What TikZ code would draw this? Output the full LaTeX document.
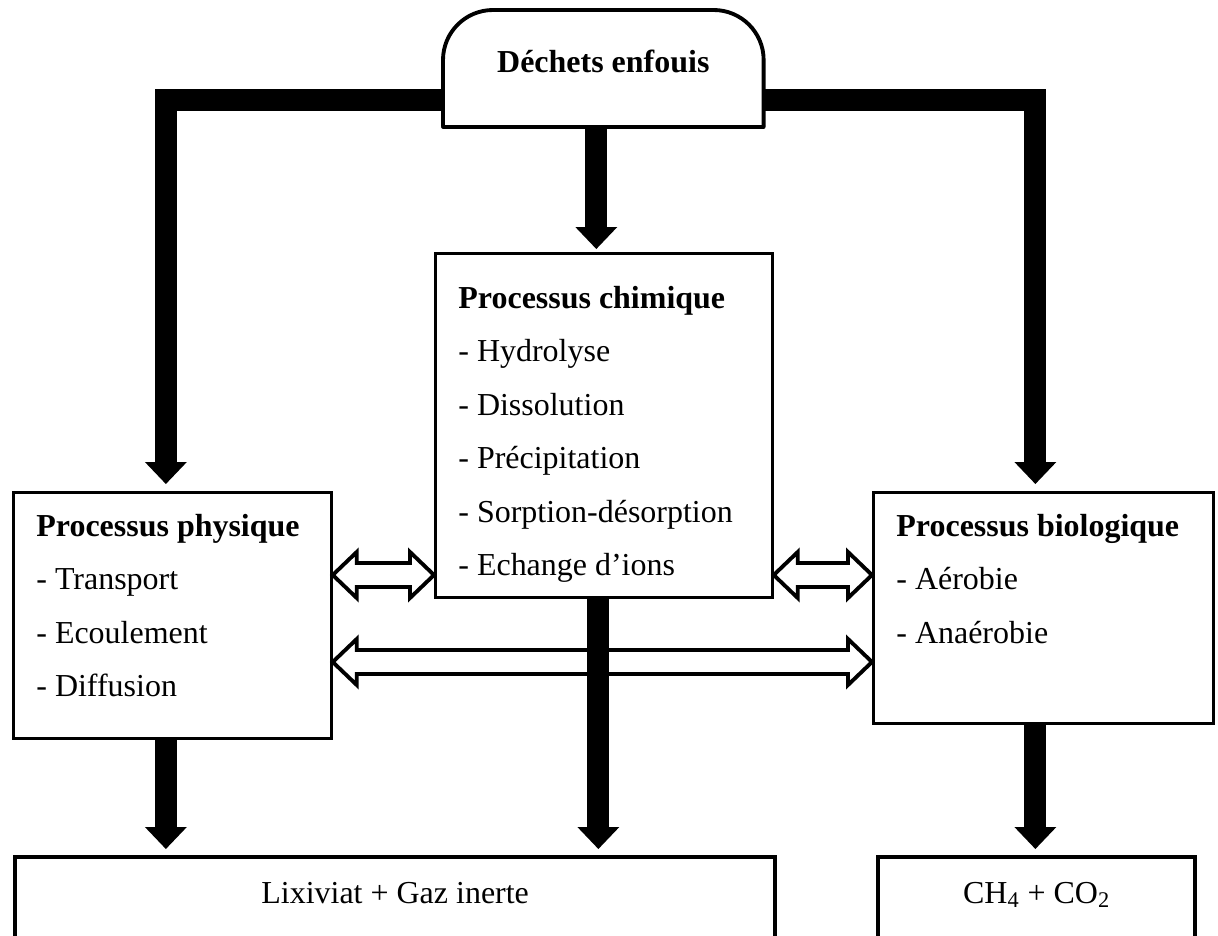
\documentclass[tikz,border=0pt]{standalone}
\usepackage{fontspec}
\setmainfont{Liberation Serif}
\usetikzlibrary{arrows.meta,calc}

\newcommand{\boxfont}{\fontsize{18.2pt}{30.4pt}\selectfont}
\newcommand{\itemlist}[2]{\begin{tabular}[t]{@{\hspace{0.46cm}}p{#1}@{}}#2\end{tabular}}
\newcommand{\twoway}[2]{%
  \draw[hollowarrow] (#1) -- ++(24,-23) -- ++(0,11) -- ($(#2)+(-24,-12)$) -- ++(0,-11)
    -- (#2) -- ++(-24,23) -- ++(0,-11) -- ($(#1)+(24,12)$) -- ++(0,11) -- cycle;}

\begin{document}
\begin{tikzpicture}[x=0.02cm, y=-0.02cm, font=\boxfont,
    procbox/.style={draw, line width=1.6pt, anchor=north west, inner sep=0pt},
    bigarrow/.style={line width=0.44cm, -{Triangle[width=0.84cm,length=0.44cm,line width=0pt]}},
    hollowarrow/.style={line width=2.2pt, fill=white, line join=miter}]
    \path[use as bounding box] (0,0) rectangle (1218,936);
    \clip (0,0) rectangle (1218,936);
    % waste on top
    \node[anchor=north west, inner sep=0pt, minimum width=6.4cm, text height=1.24cm,
      text depth=1.08cm, font=\boxfont\bfseries] (top) at (443,10) {Déchets enfouis};
    \draw[line width=2.2pt, rounded corners=1cm] (top.south west) -- (top.north west)
      -- (top.north east) -- (top.south east);
    \draw[line width=2.2pt, line cap=round] (top.south west) -- (top.south east);
    % the three processes
    \node[procbox, text height=0.88cm, text depth=4.04cm] (phys) at (12,491)
      {\itemlist{5.9cm}{\textbf{Processus physique}\\- Transport\\- Ecoulement\\- Diffusion}};
    \node[procbox, text height=1.1cm, text depth=5.78cm] (chem) at (434,252)
      {\itemlist{6.28cm}{\textbf{Processus chimique}\\- Hydrolyse\\- Dissolution\\- Précipitation\\- Sorption-désorption\\- Echange d’ions}};
    \node[procbox, text height=0.88cm, text depth=3.74cm] (bio) at (872,491)
      {\itemlist{6.34cm}{\textbf{Processus biologique}\\- Aérobie\\- Anaérobie}};
    % products
    \node[procbox, line width=2.5pt, minimum width=15.2cm, text height=0.92cm, text depth=2cm] (lix) at (13,855)
      {Lixiviat + Gaz inerte};
    \node[procbox, line width=2.5pt, minimum width=6.34cm, text height=0.92cm, text depth=2cm] (gas) at (876,855)
      {CH\textsubscript{4} + CO\textsubscript{2}};
    % arrows from the waste
    \draw[bigarrow, shorten >=0.14cm] ([yshift=-0.64cm]top.west) -| ([xshift=-0.13cm]phys.north);
    \draw[bigarrow, shorten >=0.14cm] ([yshift=-0.64cm]top.east) -| ([xshift=-0.16cm]bio.north);
    \draw[bigarrow, shorten >=0.06cm] ([xshift=-0.14cm]top.south) -- ([xshift=-0.14cm]top.south |- chem.north);
    % exchanges between processes
    \coordinate (upper) at (0,575);
    \coordinate (lower) at (0,662);
    \twoway{phys.east |- upper}{chem.west |- upper}
    \twoway{chem.east |- upper}{bio.west |- upper}
    \twoway{phys.east |- lower}{bio.west |- lower}
    % arrows to the products
    \draw[bigarrow, shorten >=0.12cm] ([xshift=-0.13cm]phys.south) -- ([xshift=-0.13cm]phys.south |- lix.north);
    \draw[bigarrow, shorten >=0.12cm] ([xshift=-0.11cm]chem.south) -- ([xshift=-0.11cm]chem.south |- lix.north);
    \draw[bigarrow, shorten >=0.12cm] ([xshift=-0.16cm]bio.south) -- ([xshift=-0.16cm]bio.south |- gas.north);
\end{tikzpicture}
\end{document}
